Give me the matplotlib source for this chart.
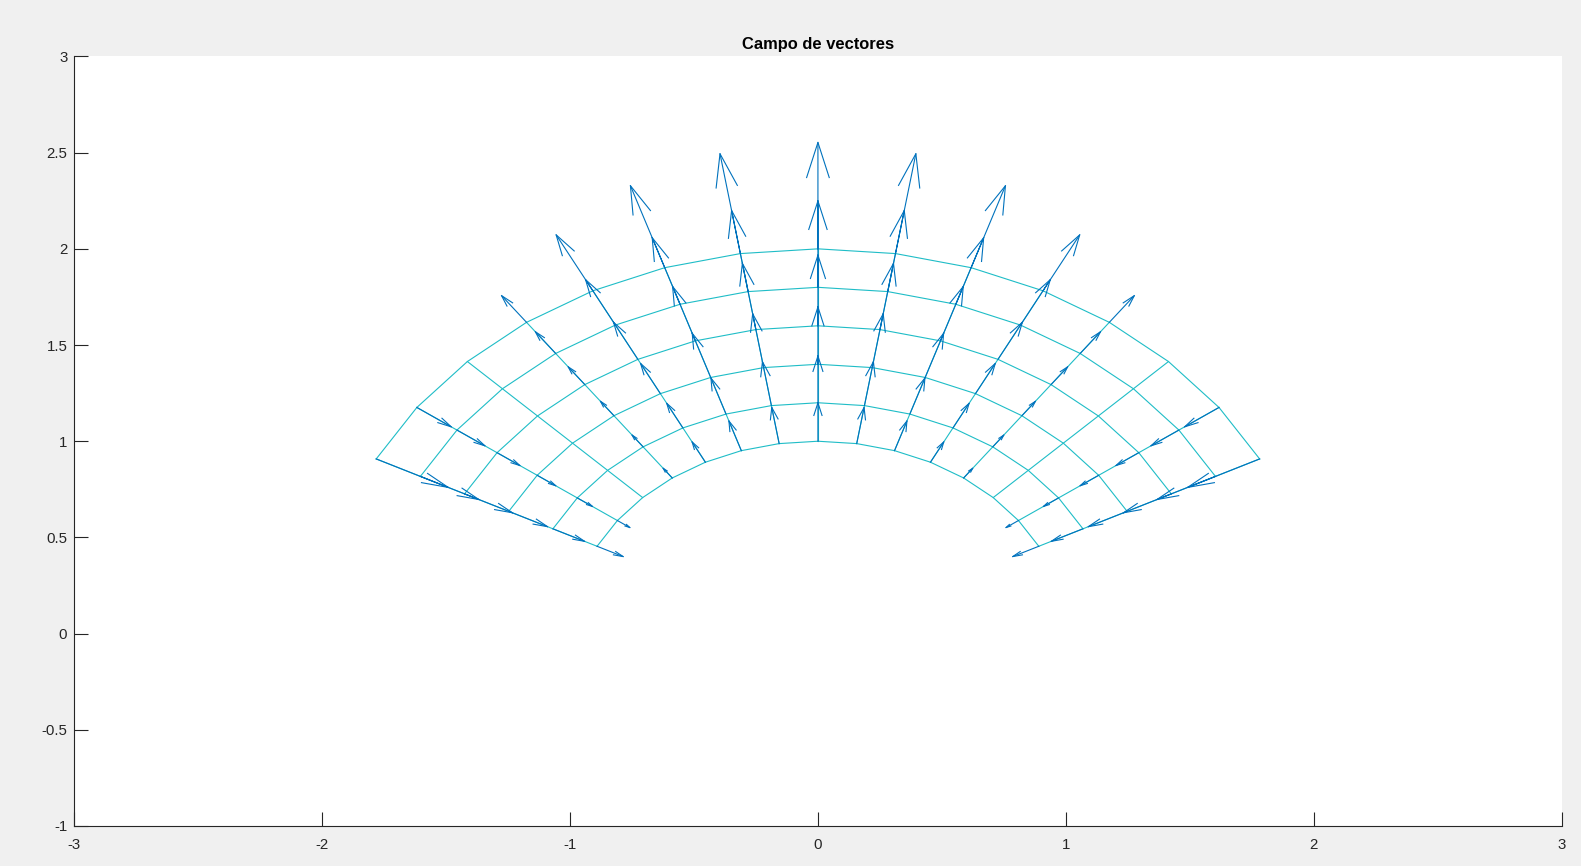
import numpy as np
import matplotlib
matplotlib.use("Agg")
import matplotlib.pyplot as plt

# polar grid: angles (deg) and radii of the mesh nodes
theta_deg = [27, 36, 45, 54, 63, 72, 81, 90, 99, 108, 117, 126, 135, 144, 153]
radii = [1.0, 1.2, 1.4, 1.6, 1.8, 2.0]
# arrow length read on the vertical column (theta = 90), one per radius
len_90 = [0.200, 0.243, 0.298, 0.367, 0.449, 0.553]
# relative radial strength per angle, negative = arrow points inward
weight = [-0.59, -0.31, 0.0, 0.31, 0.59, 0.81, 0.95, 1.0,
          0.95, 0.81, 0.59, 0.31, 0.0, -0.31, -0.59]

xticks = [-3, -2, -1, 0, 1, 2, 3]
xtick_labels = ['-3', '-2', '-1', '0', '1', '2', '3']
yticks = [-1, -0.5, 0, 0.5, 1, 1.5, 2, 2.5, 3]
ytick_labels = ['-1', '-0.5', '0', '0.5', '1', '1.5', '2', '2.5', '3']

plt.rcParams['font.family'] = ['Liberation Sans', 'DejaVu Sans']
plt.rcParams['axes.unicode_minus'] = False

fig = plt.figure(figsize=(15.81, 8.66), dpi=100, facecolor='#f0f0f0')
ax = fig.add_axes([0.047, 0.0462, 0.9407, 0.8886])
ax.set_facecolor('white')

th = np.deg2rad(theta_deg)
R, T = np.meshgrid(radii, th)          # shape (angles, radii)
X = R * np.cos(T)
Y = R * np.sin(T)

mesh_col = '#1fbdc7'
for j in range(len(radii)):
    ax.plot(X[:, j], Y[:, j], color=mesh_col, lw=0.8, zorder=1)
for i in range(len(theta_deg)):
    ax.plot(X[i, :], Y[i, :], color=mesh_col, lw=0.8, zorder=1)

# quiver, MATLAB style (line shaft + open V head)
L = np.outer(weight, len_90)
U = L * np.cos(T)
V = L * np.sin(T)
a, b = 0.33, 0.25
sx, sy, hx, hy = [], [], [], []
for x, y, u, v in zip(X.ravel(), Y.ravel(), U.ravel(), V.ravel()):
    if u == 0 and v == 0:
        continue
    tx, ty = x + u, y + v
    sx += [x, tx, np.nan]
    sy += [y, ty, np.nan]
    hx += [tx - a * (u + b * v), tx, tx - a * (u - b * v), np.nan]
    hy += [ty - a * (v - b * u), ty, ty - a * (v + b * u), np.nan]
q_col = '#0072bd'
ax.plot(sx, sy, color=q_col, lw=0.8, zorder=2)
ax.plot(hx, hy, color=q_col, lw=0.8, zorder=2)

ax.set_xlim(-3, 3)
ax.set_ylim(-1, 3)
ax.set_xticks(xticks)
ax.set_xticklabels(xtick_labels)
ax.set_yticks(yticks)
ax.set_yticklabels(ytick_labels)
for s in ['top', 'right']:
    ax.spines[s].set_visible(False)
for s in ['left', 'bottom']:
    ax.spines[s].set_color('#262626')
    ax.spines[s].set_linewidth(0.8)
ax.tick_params(direction='in', length=10, width=0.8, color='#262626',
               labelcolor='#262626', labelsize=10.8)
ax.tick_params(axis='x', pad=8.5)
ax.tick_params(axis='y', pad=5)
ax.set_title('Campo de vectores', fontsize=11.9, fontweight='bold',
             color='black', pad=5.7)

fig.savefig('out.png', dpi=100, facecolor=fig.get_facecolor())
